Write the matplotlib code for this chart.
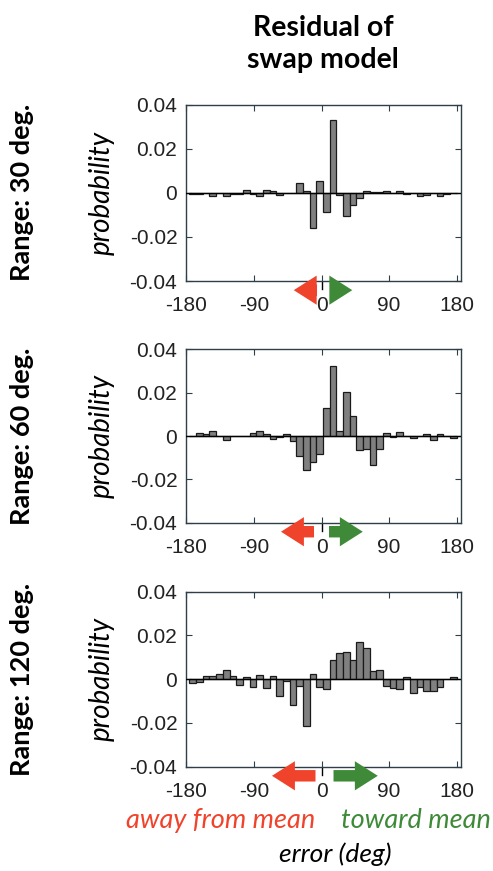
"""
Residual of swap model: error histograms per stimulus range
"""

import matplotlib

matplotlib.use("Agg")
import matplotlib.pyplot as plt
import matplotlib.transforms as mtransforms
import numpy as np

matplotlib.rcParams.update(
    {
        "font.family": ["Liberation Sans", "DejaVu Sans"],
        "font.size": 15,
        "axes.unicode_minus": False,
        "figure.facecolor": "white",
    }
)

COLORS = {
    "bar": "#808080",
    "edge": "#1a1a1a",
    "spine": "#2f3f48",
    "tick": "#222222",
    "away": "#f0432c",
    "toward": "#3f8a38",
}
HUMANIST = ["Lato", "DejaVu Sans"]

# ─── data ─────────────────────────────────

ranges = ["Range: 30 deg.", "Range: 60 deg.", "Range: 120 deg."]

# residual probability per 9-deg error bin (40 bins, -180..180)
resid_30 = [
    -0.0003, -0.0005, 0.0, -0.0015, 0.0, -0.0015, -0.0005, -0.0005, 0.0015, -0.0005,
    -0.0015, 0.0015, 0.001, -0.0008, 0.0, 0.0, 0.0045, 0.001, -0.0159, 0.0052,
    -0.0088, 0.0332, -0.001, -0.0105, -0.0053, -0.0025, 0.001, 0.0005, 0.0005, 0.0007,
    0.0, 0.0007, -0.0005, 0.0, -0.0015, -0.0008, 0.0, -0.0015, -0.0003, 0.0,
]
resid_60 = [
    0.0, 0.0015, 0.0007, 0.0025, 0.0, -0.0018, 0.0, 0.0, 0.0, 0.0015,
    0.0025, 0.0008, -0.0013, -0.0005, 0.001, -0.0025, -0.0094, -0.0159, -0.0122, -0.0082,
    0.0128, 0.0323, 0.0022, 0.0202, 0.0092, -0.0066, -0.006, -0.0136, -0.0058, 0.0013,
    -0.0005, 0.002, 0.0, -0.001, 0.0, 0.0007, -0.0018, 0.0007, 0.0, -0.001,
]
resid_120 = [
    -0.0017, -0.0012, 0.0015, 0.0015, 0.0024, 0.0041, 0.0015, -0.0026, 0.001, -0.0035,
    0.0017, -0.0042, 0.0015, -0.0076, -0.001, -0.0116, -0.003, -0.0213, 0.0025, -0.0035,
    -0.0045, 0.0088, 0.0118, 0.0124, 0.0088, 0.0171, 0.0143, 0.0036, 0.004, -0.003,
    -0.004, -0.0045, 0.001, -0.0065, -0.0035, -0.0056, -0.0056, -0.0035, 0.0, 0.0012,
]
residuals = [resid_30, resid_60, resid_120]

# extent of the "away" / "toward" arrows below each panel (deg)
away_arrow = [(-6, -37), (-10, -54), (-8, -66)]
toward_arrow = [(11, 41), (10, 55), (16, 75)]

xticks = [-180, -90, 0, 90, 180]
yticks = [-0.04, -0.02, 0, 0.02, 0.04]
yticklabels = ["-0.04", "-0.02", "0", "0.02", "0.04"]

# ─── figure ─────────────────────────────────

W, H = 493, 871
fig = plt.figure(figsize=(W / 100, H / 100), dpi=100)

panel_px = [(104.7, 281.0), (349.3, 522.7), (591.7, 766.7)]  # top, bottom in px
left_px, right_px = 185.7, 460.7

edges = np.linspace(-176, 180, 41)
centers = (edges[:-1] + edges[1:]) / 2
width = edges[1] - edges[0]

for i, (top, bot) in enumerate(panel_px):
    ax = fig.add_axes(
        [left_px / W, 1 - bot / H, (right_px - left_px) / W, (bot - top) / H]
    )
    ax.bar(
        centers,
        residuals[i],
        width=width,
        color=COLORS["bar"],
        edgecolor=COLORS["edge"],
        linewidth=0.9,
        zorder=2,
    )
    ax.axhline(0, color="black", lw=1.0, zorder=3)
    ax.set_xlim(-181, 185.5)
    ax.set_ylim(-0.04, 0.04)
    ax.set_xticks(xticks)
    ax.set_xticklabels([str(t) for t in xticks])
    ax.set_yticks(yticks)
    ax.set_yticklabels(yticklabels)
    ax.tick_params(
        direction="in",
        top=True,
        right=True,
        length=4,
        width=0.8,
        color=COLORS["spine"],
        labelcolor=COLORS["tick"],
        labelsize=15,
    )
    ax.tick_params(axis="x", pad=11)
    ax.tick_params(axis="y", pad=6)
    for s in ax.spines.values():
        s.set_color(COLORS["spine"])
        s.set_linewidth(1.0)

    ax.set_ylabel(
        "probability", family=HUMANIST, style="italic", fontsize=20, labelpad=11
    )
    fig.text(
        22 / W, 1 - (top + bot) / 2 / H, ranges[i],
        rotation=90, ha="center", va="center",
        family=HUMANIST, fontweight="bold", fontsize=19.5,
    )

    # direction arrows and zero mark below the axis
    trans = mtransforms.blended_transform_factory(ax.transData, ax.transAxes)
    ax.plot([0, 0], [-0.005, -0.045], color="black", lw=1.0,
            transform=trans, clip_on=False)
    for (x0, x1), c in [(away_arrow[i], COLORS["away"]),
                        (toward_arrow[i], COLORS["toward"])]:
        ax.annotate(
            "", xy=(x1, -0.052), xytext=(x0, -0.052),
            xycoords=trans, textcoords=trans, annotation_clip=False,
            arrowprops=dict(
                arrowstyle="simple,head_width=1.4,head_length=1.1,tail_width=0.55",
                color=c, lw=0, shrinkA=0, shrinkB=0,
            ),
        )

fig.text(
    323 / W, 1 - 44 / H, "Residual of\nswap model",
    ha="center", va="center", family=HUMANIST,
    fontweight="bold", fontsize=20.5, linespacing=1.25,
)
fig.text(
    221 / W, 1 - 820 / H, "away from mean", ha="center", va="center",
    color=COLORS["away"], style="italic", family=HUMANIST, fontsize=19.5,
)
fig.text(
    416 / W, 1 - 820 / H, "toward mean", ha="center", va="center",
    color=COLORS["toward"], style="italic", family=HUMANIST, fontsize=19.5,
)
fig.text(
    335 / W, 1 - 854 / H, "error (deg)", ha="center", va="center",
    color="black", style="italic", family=HUMANIST, fontsize=19,
)

fig.savefig("out.png", dpi=100)
